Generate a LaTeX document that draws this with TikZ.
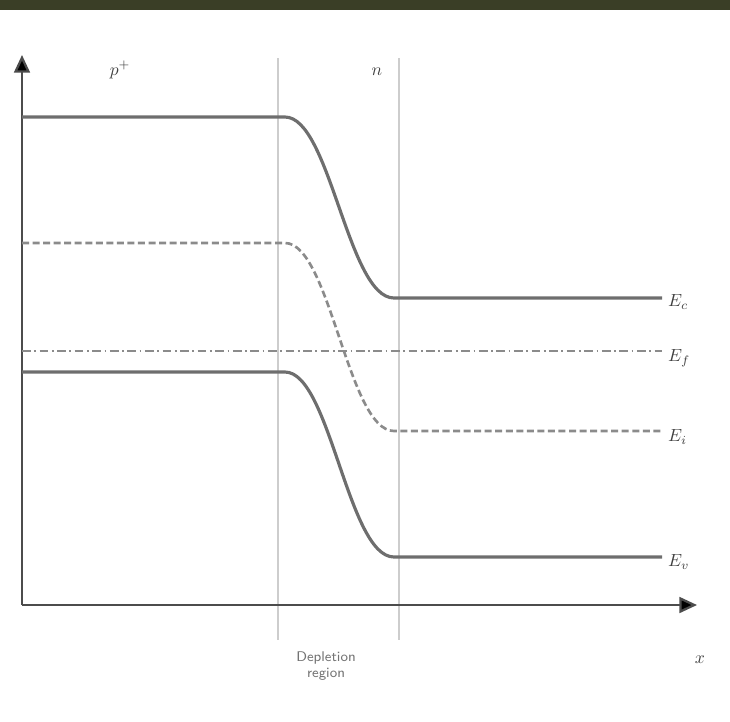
\documentclass[tikz,border=0pt]{standalone}
\usetikzlibrary{arrows.meta,positioning}
\definecolor{bandline}{RGB}{110,110,110}
\definecolor{edgeline}{RGB}{205,205,205}
\definecolor{stripcol}{RGB}{58,62,38}
\begin{document}
\begin{tikzpicture}[x=0.02cm, y=-0.02cm,
  axis/.style={line width=1.3pt, draw=black!70, -{Triangle[length=10pt,width=9pt,fill=black]}},
  edgeln/.style={line width=1.4pt, draw=edgeline},
  band/.style={line width=1.8pt, draw=bandline},
  ilevel/.style={band, line width=1.5pt, dash pattern=on 4pt off 2pt, draw=bandline!80},
  flevel/.style={band, line width=1.5pt, dash pattern=on 5pt off 2pt on 1pt off 2pt, draw=bandline!80},
  lbl/.style={font=\normalsize, anchor=west, text=black!75, inner sep=1pt},
  side/.style={font=\normalsize, text=black!75},
  region/.style={font=\sffamily\footnotesize, text=black!55, align=center}
]
\useasboundingbox (0,0) rectangle (730,721);
\fill[stripcol] (0,0) rectangle (730,10);

%% ---- Depletion edges ----
\coordinate (dtop) at (278,58);
\coordinate (dbot) at (278,640);
\coordinate (ntop) at (399,58);
\coordinate (nbot) at (399,640);
\draw[edgeln] (dtop) -- (dbot);
\draw[edgeln] (ntop) -- (nbot);

%% ---- Axes ----
\coordinate (origin) at (22,605);
\coordinate (ytip) at (22,55);
\coordinate (xtip) at (697,605);
\draw[axis] (origin) -- (ytip);
\draw[axis] (origin) -- (xtip);

%% ---- Band levels ----
\draw[band] (22,117) -- (285,117) .. controls (330,117) and (348,298) .. (394,298) -- (662,298);
\draw[ilevel] (22,243) -- (285,243) .. controls (330,243) and (348,431) .. (394,431) -- (662,431);
\draw[flevel] (22,351) -- (662,351);
\draw[band] (22,372) -- (285,372) .. controls (330,372) and (348,557) .. (394,557) -- (662,557);

%% ---- Labels ----
\node[lbl] (ec) at (666,302) {$E_c$};
\node[lbl] (ef) at (666,358) {$E_f$};
\node[lbl] (ei) at (666,437) {$E_i$};
\node[lbl] (ev) at (666,562) {$E_v$};
\node[side] (pside) at (120,70) {$p^+$};
\node[side] (nside) at (377,72) {$n$};
\node[side] (xlab) at (700,660) {$x$};
\node[region] (depl) at (326,666) {Depletion\\region};
\end{tikzpicture}
\end{document}
